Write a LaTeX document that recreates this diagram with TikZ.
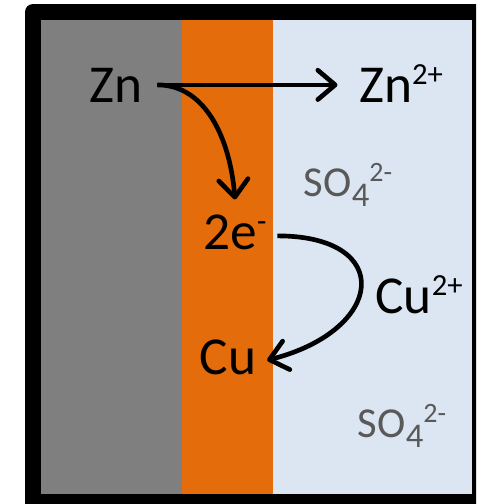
\documentclass[tikz,border=0pt]{standalone}
\usepackage{fontspec}
\setmainfont{Carlito}
\usepackage{tikz}
\usetikzlibrary{arrows.meta}

\definecolor{zincGray}{HTML}{7F7F7F}
\definecolor{copperOrange}{HTML}{E46C0A}
\definecolor{bathBlue}{HTML}{DCE6F2}
\definecolor{ionGray}{HTML}{595959}

% raised / lowered charges and indices
\newcommand{\chgup}[3]{\raisebox{#1}{\fontsize{#2}{#2}\selectfont #3}}
\newcommand{\idxdown}[3]{\raisebox{-#1}{\fontsize{#2}{#2}\selectfont #3}}

\begin{document}
\begin{tikzpicture}[
        x=0.75pt, y=-0.75pt,
        % Define styles
        species/.style={font=\fontsize{40}{44}\selectfont, text=black, inner sep=11pt, anchor=base},
        anion/.style={font=\fontsize{32}{36}\selectfont, text=ionGray, inner sep=6pt, anchor=base},
        flow/.style={-{Straight Barb[length=13pt, width=22pt, round]}, line width=3.5pt}
    ]
    \useasboundingbox (0,0) rectangle (476,504);
    \clip (0,0) rectangle (476,504);

    % 1. Cell frame and the three layers
    \fill[black, rounded corners=6pt] (25,4) rectangle (500,525);
    \fill[bathBlue] (41,20) rectangle (472,494);
    \fill[zincGray] (41,20) rectangle (182,494);
    \fill[copperOrange] (182,20) rectangle (273,494);

    % 2. Species
    \node[species] (zn) at (116,102) {Zn};
    \node[species] (zn2) at (401,102) {Zn\chgup{13pt}{23}{2+}};
    \node[species] (e2) at (235,249) {2e\chgup{13pt}{23}{-}};
    \node[species] (cu2) at (419,313) {Cu\chgup{13pt}{23}{2+}};
    \node[species] (cu) at (228,374) {Cu};

    % 3. Sulfate ions in the solution
    \node[anion] (so1) at (348,196) {SO\idxdown{8pt}{26}{4}\chgup{11pt}{21}{2-}};
    \node[anion] (so2) at (402,437) {SO\idxdown{8pt}{26}{4}\chgup{11pt}{21}{2-}};

    % 4. Oxidation of zinc
    \draw[flow, shorten >=5pt] (zn.east) -- (zn.east -| zn2.west);
    \draw[flow] (zn.east) .. controls +(48,0) and +(-5,-61) .. (e2.north);

    % 5. Electrons reduce copper ions
    \draw[flow] ([xshift=-3pt, yshift=-3pt]e2.east) .. controls +(118,0) and +(118,-30) .. ([xshift=-3pt, yshift=-2.5pt]cu.east);

\end{tikzpicture}
\end{document}
